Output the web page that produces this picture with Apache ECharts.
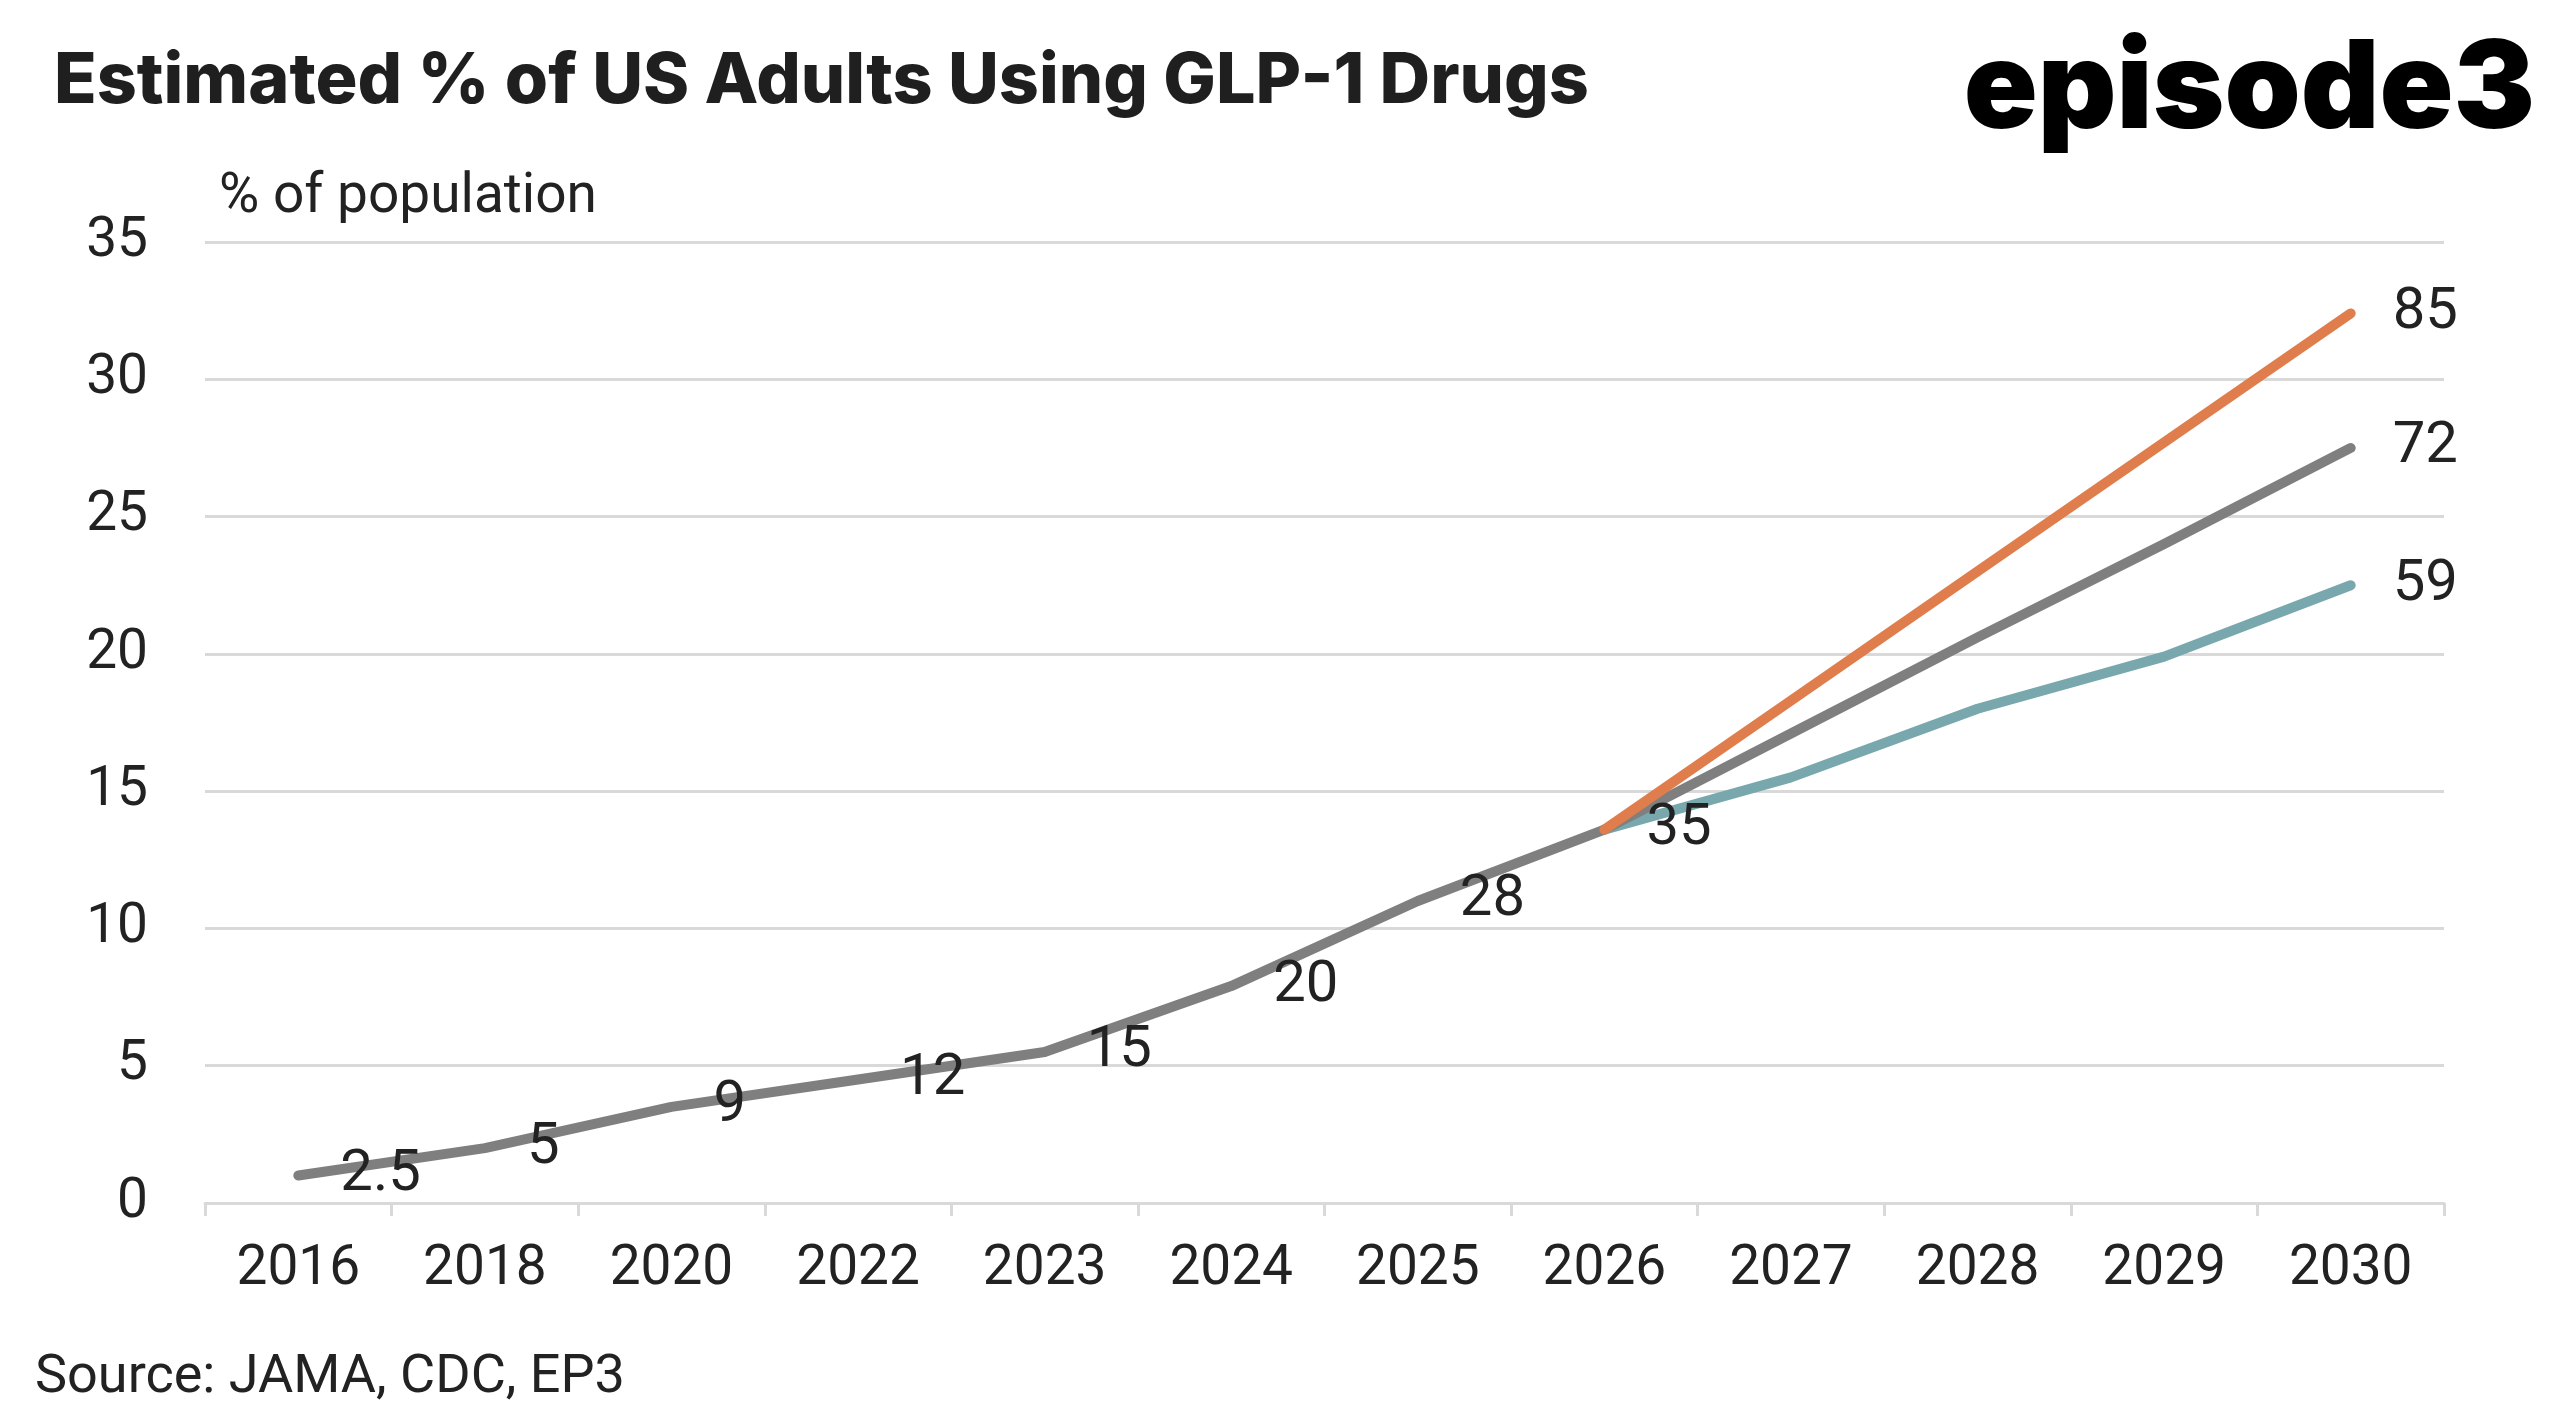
<!DOCTYPE html>
<html>
<head>
<meta charset="utf-8">
<script src="https://cdn.jsdelivr.net/npm/echarts@6/dist/echarts.min.js"></script>
<style>html,body{margin:0;padding:0;background:#fff}#chart{width:2560px;height:1420px}</style>
</head>
<body>
<div id="chart"></div>
<script>
const categories = ['2016','2018','2020','2022','2023','2024','2025','2026','2027','2028','2029','2030'];
const baseValues = [1.0, 2.0, 3.5, 4.5, 5.5, 7.9, 11.0, 13.6, 17.1, 20.6, 24.0, 27.5];
const baseLabels = ['2.5','5','9','12','15','20','28','35','','','','72'];
const highValues = [null, null, null, null, null, null, null, 13.6, 18.3, 23.0, 27.7, 32.4];
const highLabels = ['','','','','','','','','','','','85'];
const lowValues  = [null, null, null, null, null, null, null, 13.6, 15.5, 18.0, 19.9, 22.5];
const lowLabels  = ['','','','','','','','','','','','59'];
const yTicks = [0, 5, 10, 15, 20, 25, 30, 35];

const FONT = 'Roboto';
const chart = echarts.init(document.getElementById('chart'));

function lineSeries(name, values, labels, color, z) {
  return {
    name: name,
    type: 'line',
    data: values,
    z: z,
    symbol: 'circle',
    symbolSize: 2,
    showSymbol: true,
    itemStyle: { color: color },
    lineStyle: { color: color, width: 10, cap: 'round', join: 'round' },
    emphasis: { disabled: true },
    connectNulls: false,
    label: {
      show: true,
      position: 'right',
      distance: 41,
      fontFamily: FONT,
      fontSize: 58,
      color: '#222',
      formatter: function (p) { return labels[p.dataIndex]; }
    }
  };
}

chart.setOption({
  backgroundColor: '#fff',
  animation: false,
  title: [
    { text: 'Estimated % of US Adults Using GLP-1 Drugs', left: 49, top: 42,
      textStyle: { fontFamily: 'Inter', fontWeight: 800, fontSize: 70, color: '#1f1f1f' } },
    { text: 'Source: JAMA, CDC, EP3', left: 30, top: 1346,
      textStyle: { fontFamily: FONT, fontWeight: 'normal', fontSize: 54, color: '#222' } },
    { text: '% of population', left: 214, top: 166,
      textStyle: { fontFamily: FONT, fontWeight: 'normal', fontSize: 55, color: '#222' } }
  ],
  graphic: [
    { type: 'text', right: 25, top: 30,
      style: { text: 'episode3', fontFamily: 'Inter', fontWeight: 900, fontSize: 122, fill: '#000' } }
  ],
  grid: { left: 205, right: 116, top: 242, bottom: 217, containLabel: false },
  xAxis: {
    type: 'category',
    data: categories,
    boundaryGap: true,
    axisLine: { show: true, lineStyle: { color: '#d9d9d9', width: 3 } },
    axisTick: { show: true, length: 13, lineStyle: { color: '#d9d9d9', width: 3 } },
    axisLabel: { margin: 40, fontFamily: FONT, fontSize: 55, color: '#222' },
    splitLine: { show: false }
  },
  yAxis: {
    type: 'value',
    min: yTicks[0],
    max: yTicks[yTicks.length - 1],
    interval: 5,
    axisLine: { show: false },
    axisTick: { show: false },
    axisLabel: { margin: 57, fontFamily: FONT, fontSize: 55, color: '#222' },
    splitLine: { show: true, lineStyle: { color: '#d9d9d9', width: 3 } }
  },
  series: [
    lineSeries('Low', lowValues, lowLabels, '#78a8ad', 2),
    lineSeries('Base', baseValues, baseLabels, '#7f7f7f', 3),
    lineSeries('High', highValues, highLabels, '#df7d4d', 4)
  ]
});
</script>
</body>
</html>
